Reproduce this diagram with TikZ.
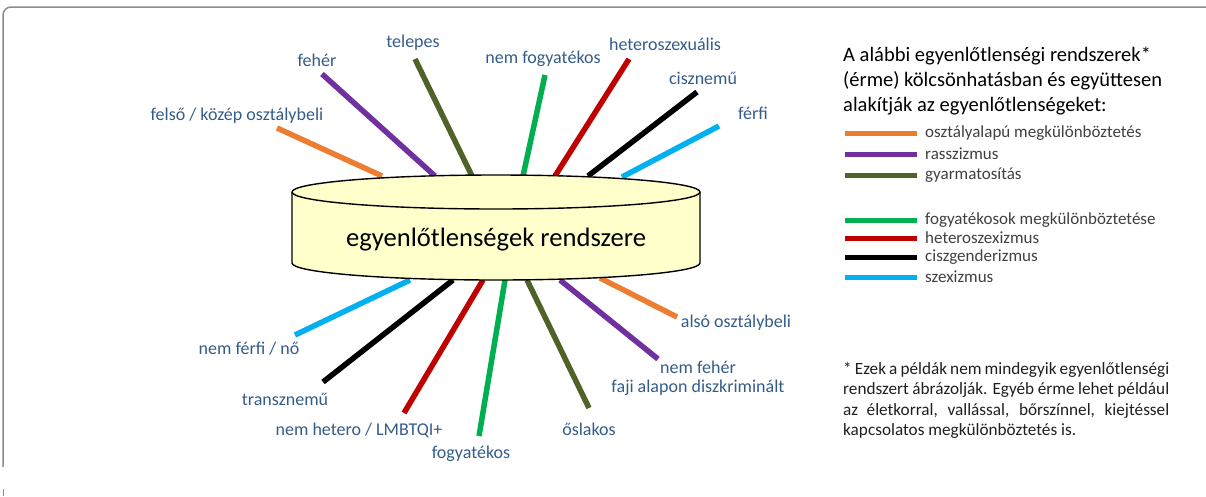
\documentclass[tikz,border=0pt]{standalone}
\usepackage{fontspec}
\setmainfont{Carlito}
\definecolor{cOrange}{HTML}{ED7D31}
\definecolor{cPurple}{HTML}{7030A0}
\definecolor{cOlive}{HTML}{4F6228}
\definecolor{cGreen}{HTML}{00B050}
\definecolor{cRed}{HTML}{C00000}
\definecolor{cBlack}{HTML}{000000}
\definecolor{cBlue}{HTML}{00B0F0}
\definecolor{cLabel}{HTML}{345C8A}
\definecolor{cLegend}{HTML}{404040}
\definecolor{cFill}{HTML}{FFFFCC}
\definecolor{cFrame}{HTML}{8C8C8C}
\tikzset{
  lbl/.style={text=cLabel, font=\fontsize{18}{21}\selectfont, inner sep=0pt},
  spoke/.style={line width=5.5pt},
  swatch/.style={line width=5pt},
  legtext/.style={text=cLegend, font=\fontsize{17}{20}\selectfont, inner sep=0pt, anchor=west},
}
\begin{document}
\begin{tikzpicture}[x=1pt,y=-1pt]
\useasboundingbox (0,0) rectangle (1206,496);
% screenshot frame
\draw[cFrame, line width=1.5pt, rounded corners=8pt] (3,467) -- (3,7) -- (1206,7);
\draw[cFrame, line width=1pt] (3,489) -- (3,496);

% spoke end coordinates (top)
\coordinate (t1a) at (277,128); \coordinate (t1b) at (382,176);
\coordinate (t2a) at (322,74);  \coordinate (t2b) at (435,176);
\coordinate (t3a) at (415,59);  \coordinate (t3b) at (472,176);
\coordinate (t4a) at (545,75);  \coordinate (t4b) at (523,176);
\coordinate (t5a) at (629,59);  \coordinate (t5b) at (555,176);
\coordinate (t6a) at (697,92);  \coordinate (t6b) at (588,176);
\coordinate (t7a) at (719,126); \coordinate (t7b) at (622,177);
% spoke end coordinates (bottom)
\coordinate (b1a) at (410,280); \coordinate (b1b) at (295,335);
\coordinate (b2a) at (453,280); \coordinate (b2b) at (323,382);
\coordinate (b3a) at (483,280); \coordinate (b3b) at (404,413);
\coordinate (b4a) at (505,280); \coordinate (b4b) at (479,436);
\coordinate (b5a) at (527,280); \coordinate (b5b) at (589,408);
\coordinate (b6a) at (560,280); \coordinate (b6b) at (658,359);
\coordinate (b7a) at (600,278); \coordinate (b7b) at (677,317);

\draw[spoke, cOrange] (t1a) -- (t1b);
\draw[spoke, cPurple] (t2a) -- (t2b);
\draw[spoke, cOlive]  (t3a) -- (t3b);
\draw[spoke, cGreen]  (t4a) -- (t4b);
\draw[spoke, cRed]    (t5a) -- (t5b);
\draw[spoke, cBlack]  (t6a) -- (t6b);
\draw[spoke, cBlue]   (t7a) -- (t7b);
\draw[spoke, cBlue]   (b1a) -- (b1b);
\draw[spoke, cBlack]  (b2a) -- (b2b);
\draw[spoke, cRed]    (b3a) -- (b3b);
\draw[spoke, cGreen]  (b4a) -- (b4b);
\draw[spoke, cOlive]  (b5a) -- (b5b);
\draw[spoke, cPurple] (b6a) -- (b6b);
\draw[spoke, cOrange] (b7a) -- (b7b);

% cylinder
\draw[fill=cFill, line width=1.4pt] (292,192) -- (292,263)
  arc[start angle=180, end angle=360, x radius=204pt, y radius=17pt]
  -- (700,192)
  arc[start angle=0, end angle=180, x radius=204pt, y radius=17pt] -- cycle;
\draw[line width=1.4pt] (292,192)
  arc[start angle=180, end angle=360, x radius=204pt, y radius=17pt];
\node[font=\fontsize{26.6}{31}\selectfont, inner sep=0pt] (sys) at (496,240) {egyenlőtlenségek rendszere};

% labels
\node[lbl] (l1) at (237,116) {felső / közép osztálybeli};
\node[lbl] (l2) at (317,60) {fehér};
\node[lbl] (l3) at (413,43) {telepes};
\node[lbl] (l4) at (543,59) {nem fogyatékos};
\node[lbl] (l5) at (665,44) {heteroszexuális};
\node[lbl] (l6) at (703,78) {cisznemű};
\node[lbl] (l7) at (753,113) {férfi};
\node[lbl] (m1) at (249,349) {nem férfi / nő};
\node[lbl] (m2) at (285,399) {transznemű};
\node[lbl] (m3) at (359,430) {nem hetero / LMBTQI+};
\node[lbl] (m4) at (471,454) {fogyatékos};
\node[lbl] (m5) at (589,429) {őslakos};
\node[lbl] (m6) at (698,367) {nem fehér};
\node[lbl] (m6b) at (698,388) {faji alapon diszkriminált};
\node[lbl] (m7) at (736,323) {alsó osztálybeli};

% legend
\node[anchor=north west, align=left, inner sep=0pt, font=\fontsize{20.5}{25}\selectfont] (head) at (843,47)
  {A alábbi egyenlőtlenségi rendszerek*\\(érme) kölcsönhatásban és együttesen\\alakítják az egyenlőtlenségeket:};
\foreach \c/\y/\t/\n in {cOrange/133/osztályalapú megkülönböztetés/g1, cPurple/154/rasszizmus/g2, cOlive/175/gyarmatosítás/g3, cGreen/220/fogyatékosok megkülönböztetése/g4, cRed/238/heteroszexizmus/g5, cBlack/257/ciszgenderizmus/g6, cBlue/277/szexizmus/g7}{
  \coordinate (\n a) at (845,\y);
  \coordinate (\n b) at (917,\y);
  \draw[swatch, \c] (\n a) -- (\n b);
  \node[legtext] (\n) at (925,\y) {\t};
}

% footnote
\node[anchor=north west, align=left, inner sep=0pt, text=black!88, font=\fontsize{17.2}{20.5}\selectfont] (foot) at (843,362)
  {\makebox[326pt][s]{* Ezek a példák nem mindegyik egyenlőtlenségi}\\
   \makebox[326pt][s]{rendszert ábrázolják. Egyéb érme lehet például}\\
   \makebox[326pt][s]{az életkorral, vallással, bőrszínnel, kiejtéssel}\\
   kapcsolatos megkülönböztetés is.};
\end{tikzpicture}
\end{document}
